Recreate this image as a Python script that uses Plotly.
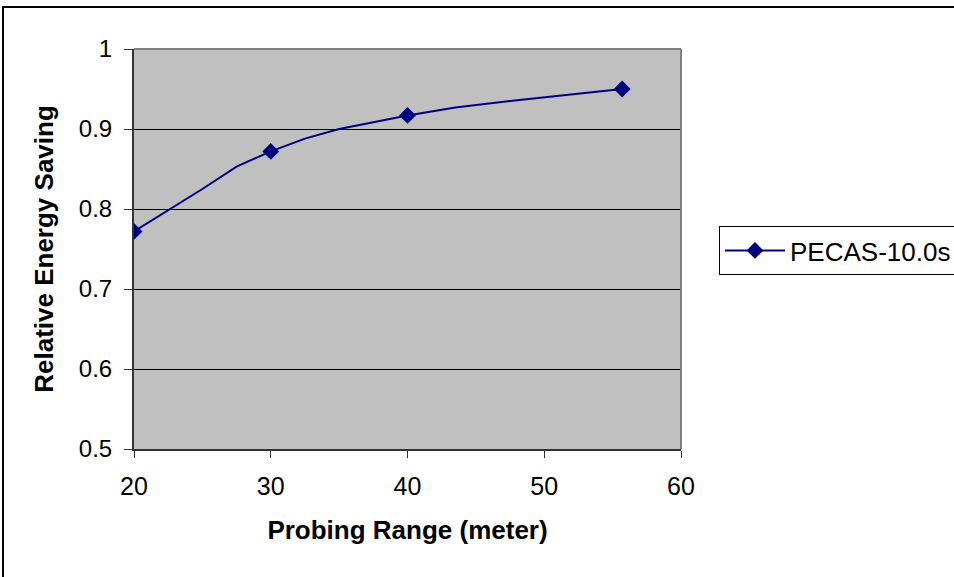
import plotly.graph_objects as go

# Data
x_line = [20, 25, 27.5, 30, 32.5, 35, 40, 43.5, 47.5, 55.7]
y_line = [0.772, 0.825, 0.853, 0.872, 0.888, 0.900, 0.917, 0.927, 0.935, 0.950]
x_mark = [20, 30, 40, 55.7]
y_mark = [0.772, 0.872, 0.917, 0.950]
series_name = "PECAS-10.0s"
x_ticks = [20, 30, 40, 50, 60]
y_ticks = [0.5, 0.6, 0.7, 0.8, 0.9, 1.0]
y_ticktext = ["0.5", "0.6", "0.7", "0.8", "0.9", "1"]

W, H = 954, 577
L, R, T, B = 134, 681, 49, 449

fig = go.Figure()
fig.add_trace(go.Scatter(x=x_line, y=y_line, mode="lines", line=dict(color="#000080", width=2),
                         showlegend=False, hoverinfo="skip"))
fig.add_trace(go.Scatter(x=x_mark, y=y_mark, mode="markers", name=series_name,
                         marker=dict(symbol="diamond", size=13, color="#000080"),
                         showlegend=False))
# legend proxy
fig.add_trace(go.Scatter(x=[None], y=[None], mode="lines+markers", name=series_name,
                         line=dict(color="#000080", width=2),
                         marker=dict(symbol="diamond", size=13, color="#000080")))

pw, ph = R - L, B - T
def px(v): return (v - L) / pw
def py(v): return (B - v) / ph

FONT = "Liberation Sans, Arial, sans-serif"

fig.update_layout(
    width=W, height=H,
    margin=dict(l=L, r=W - R, t=T, b=H - B, autoexpand=False),
    paper_bgcolor="white", plot_bgcolor="#C0C0C0",
    font=dict(family=FONT, size=24, color="black"),
    xaxis=dict(range=[20, 60], tickvals=x_ticks, showgrid=False,
               showline=True, linecolor="#333333", linewidth=2, mirror=False,
               ticks="outside", ticklen=7, tickcolor="#333333", zeroline=False,
               ticklabelstandoff=7, tickfont=dict(size=25),
               title=dict(text="<b>Probing Range (meter)</b>", font=dict(size=26), standoff=22)),
    yaxis=dict(range=[0.5, 1.0], tickvals=y_ticks, ticktext=y_ticktext,
               showgrid=True, gridcolor="black", gridwidth=1,
               showline=True, linecolor="#333333", linewidth=2,
               ticks="outside", ticklen=8, tickcolor="#333333", zeroline=False,
               ticklabelstandoff=7, tickfont=dict(size=24),
               title=dict(text="<b>Relative Energy Saving</b>", font=dict(size=26), standoff=18)),
    legend=dict(x=px(719), y=py(226), xanchor="left", yanchor="top",
                bordercolor="black", borderwidth=1, bgcolor="white",
                font=dict(size=26), itemwidth=60),
    shapes=[
        dict(type="line", xref="paper", yref="paper", x0=0, x1=1, y0=1, y1=1,
             line=dict(color="#808080", width=2)),
        dict(type="line", xref="paper", yref="paper", x0=1, x1=1, y0=0, y1=1,
             line=dict(color="#808080", width=2)),
        dict(type="rect", xref="paper", yref="paper", x0=px(3), x1=px(970), y0=py(600), y1=py(7),
             line=dict(color="black", width=2), fillcolor="rgba(0,0,0,0)", layer="below"),
    ],
)

fig.write_html("out.html")
